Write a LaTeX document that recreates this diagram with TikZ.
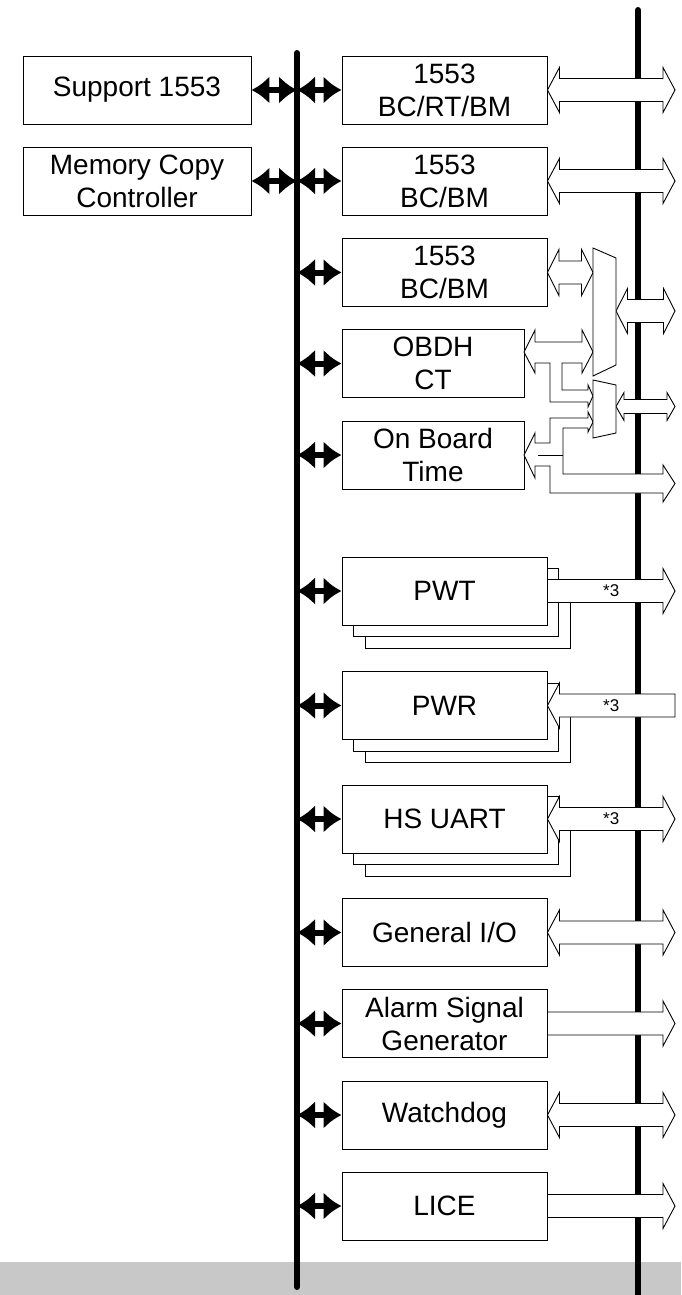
\documentclass[tikz,border=0pt]{standalone}
\usepackage{fontspec}
\setmainfont{Liberation Sans}
\usetikzlibrary{arrows.meta,calc}

\definecolor{band}{RGB}{200,200,200}
\newcommand{\boxfont}{\fontsize{28}{33}\selectfont}
\newcommand{\tagfont}{\fontsize{17}{20}\selectfont}

% hollow bus arrows: start, end, half shaft, half head, head length
\newcommand{\dblarrow}[5]{%
  \path[hollow] let \p1=(#1), \p2=(#2) in
    (\x1,\y1) -- (\x1+#5pt,\y1+#4pt) -- (\x1+#5pt,\y1+#3pt) -- (\x2-#5pt,\y1+#3pt)
    -- (\x2-#5pt,\y1+#4pt) -- (\x2,\y1) -- (\x2-#5pt,\y1-#4pt) -- (\x2-#5pt,\y1-#3pt)
    -- (\x1+#5pt,\y1-#3pt) -- (\x1+#5pt,\y1-#4pt) -- cycle;}
\newcommand{\rarrow}[5]{%
  \path[hollow] let \p1=(#1), \p2=(#2) in
    (\x1,\y1+#3pt) -- (\x2-#5pt,\y1+#3pt) -- (\x2-#5pt,\y1+#4pt) -- (\x2,\y1)
    -- (\x2-#5pt,\y1-#4pt) -- (\x2-#5pt,\y1-#3pt) -- (\x1,\y1-#3pt) -- cycle;}
\newcommand{\larrow}[5]{%
  \path[hollow] let \p1=(#1), \p2=(#2) in
    (\x1,\y1) -- (\x1+#5pt,\y1+#4pt) -- (\x1+#5pt,\y1+#3pt) -- (\x2,\y1+#3pt)
    -- (\x2,\y1-#3pt) -- (\x1+#5pt,\y1-#3pt) -- (\x1+#5pt,\y1-#4pt) -- cycle;}

\begin{document}
\begin{tikzpicture}[x=1pt,y=-1pt,
  blk/.style={draw,line width=0.9pt,fill=white,align=center,font=\boxfont,
    inner sep=0pt,minimum width=205pt,minimum height=68pt},
  wide/.style={blk,minimum width=228pt},
  narrow/.style={blk,minimum width=182pt},
  hollow/.style={draw,line width=0.9pt,fill=white,line join=miter},
  busline/.style={line width=6pt,line cap=round},
  bidir/.style={{Latex[length=18pt,width=28pt]}-{Latex[length=18pt,width=28pt]},line width=6pt}]
  \useasboundingbox (0,0) rectangle (681,1295);
  \coordinate (lbus) at (297,53);
  \coordinate (lbusend) at (297,1287);
  \coordinate (rbus) at (638,10);
  \coordinate (rbusend) at (638,1300);
  \coordinate (rend) at (675,0);
  \coordinate (m1w) at (593,0);
  \coordinate (m1o) at (616,311);
  \coordinate (m2o) at (616,406.5);

  % grauer Streifen und rechter Bus
  \fill[band] (0,1262) rectangle (681,1295);
  \draw[busline] (rbus) -- (rbusend);

  % Stapel hinter PWT, PWR, HS UART
  \foreach \y in {591,705.5,819}
    \foreach \o in {23,11.5}
      \draw[line width=0.9pt,fill=white] (342+\o,\y-34+\o) rectangle (547+\o,\y+34+\o);

  % Bloecke
  \node[wide] (sup) at (137,90) {Support 1553};
  \node[wide] (mcc) at (137,181) {Memory Copy\\Controller};
  \node[blk] (bc1) at (444.5,90) {1553\\BC/RT/BM};
  \node[blk] (bc2) at (444.5,181) {1553\\BC/BM};
  \node[blk] (bc3) at (444.5,272.5) {1553\\BC/BM};
  \node[narrow] (obdh) at (433,363.5) {OBDH\\CT};
  \node[narrow] (obt) at (433,455) {On Board\\Time};
  \node[blk] (pwt) at (444.5,591) {PWT};
  \node[blk] (pwr) at (444.5,705.5) {PWR};
  \node[blk] (hsu) at (444.5,819) {HS UART};
  \node[blk] (gio) at (444.5,932.5) {General I/O};
  \node[blk] (asg) at (444.5,1023.5) {Alarm Signal\\Generator};
  \node[blk] (wd) at (444.5,1115) {Watchdog};
  \node[blk] (lice) at (444.5,1206) {LICE};

  % schwarze Pfeile und linker Bus
  \foreach \n in {sup,mcc}
    \draw[bidir] (\n.east) -- (\n.east -| lbus);
  \foreach \n in {bc1,bc2,bc3,obdh,obt,pwt,pwr,hsu,gio,asg,wd,lice}
    \draw[bidir] (\n.west -| lbus) -- (\n.west);
  \draw[busline] (lbus) -- (lbusend);

  % Buspfeile nach rechts
  \dblarrow{bc1.east}{bc1.east -| rend}{11.5}{22.5}{12}
  \dblarrow{bc2.east}{bc2.east -| rend}{11.5}{22.5}{12}
  \dblarrow{bc3.east}{bc3.east -| m1w}{11.5}{23}{11.5}
  \dblarrow{m1o}{m1o -| rend}{11.5}{22.5}{11.5}
  \dblarrow{m2o}{m2o -| rend}{7}{14}{8}
  \rarrow{pwt.east}{pwt.east -| rend}{11.5}{22.5}{12}
  \larrow{pwr.east}{pwr.east -| rend}{11.5}{22.5}{12}
  \dblarrow{hsu.east}{hsu.east -| rend}{11.5}{22.5}{12}
  \dblarrow{gio.east}{gio.east -| rend}{11.5}{22.5}{12}
  \rarrow{asg.east}{asg.east -| rend}{11.5}{22.5}{12}
  \dblarrow{wd.east}{wd.east -| rend}{11.5}{22.5}{12}
  \rarrow{lice.east}{lice.east -| rend}{11.5}{22.5}{12}

  % OBDH mit Abzweig zum kleinen Mux
  \path[hollow] (524,352) -- (535,330) -- (535,342) -- (582,342) -- (582,330)
    -- (593,352) -- (582,373) -- (582,363) -- (562,363) -- (562,390) -- (588,390)
    -- (588,385) -- (593,396) -- (588,407) -- (588,402) -- (550,402) -- (550,363)
    -- (535,363) -- (535,373) -- cycle;

  % On Board Time, geteilt
  \path[hollow] (524,455) -- (535,433) -- (535,443) -- (550,443) -- (550,418)
    -- (588,418) -- (588,412) -- (593,422) -- (588,432) -- (588,428) -- (563,428)
    -- (563,474) -- (663,474) -- (663,465) -- (675,483.5) -- (663,502) -- (663,493)
    -- (550,493) -- (550,466) -- (535,466) -- (535,478) -- cycle;
  \draw[line width=0.9pt] (538,455) -- (563,455);

  % Multiplexer
  \draw[hollow] (593,248) -- (616,258) -- (616,365) -- (593,376) -- cycle;
  \draw[hollow] (593,380) -- (616,385) -- (616,433) -- (593,438) -- cycle;

  % Anzahl
  \foreach \n in {pwt,pwr,hsu}
    \node[font=\tagfont] at ($(\n.east)!0.5!(\n.east -| rend)$) {*3};
\end{tikzpicture}
\end{document}
